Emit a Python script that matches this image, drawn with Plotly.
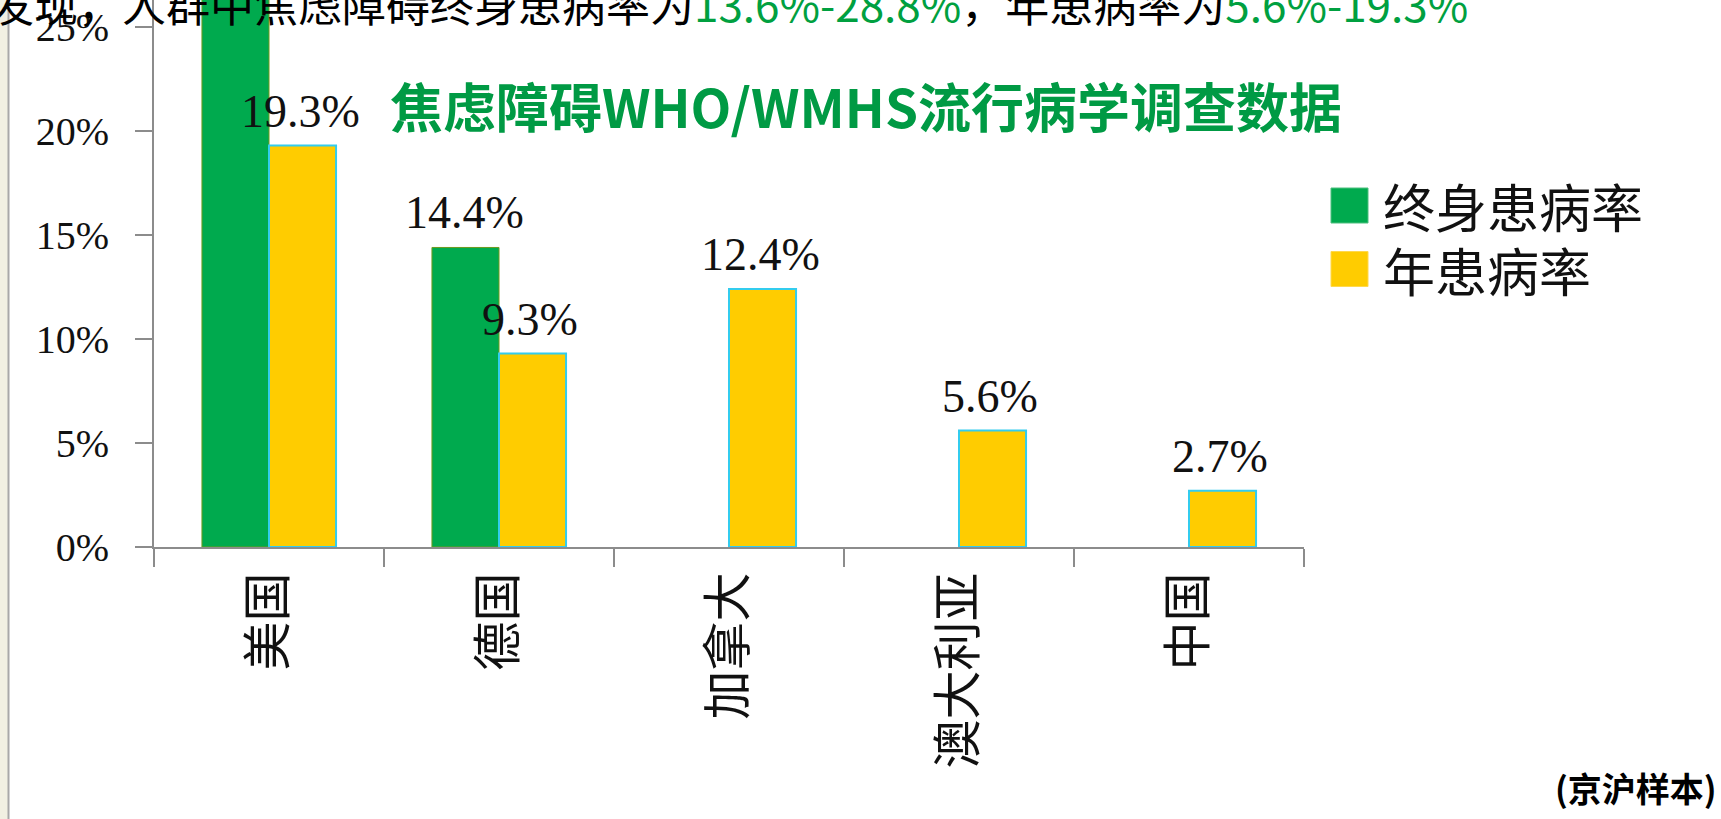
import plotly.graph_objects as go

# ---------------- data ----------------
countries = ["美国", "德国", "加拿大", "澳大利亚", "中国"]
series_names = ["终身患病率", "年患病率"]
lifetime = [28.8, 14.4, None, None, None]
annual = [19.3, 9.3, 12.4, 5.6, 2.7]
y_ticks = [0, 5, 10, 15, 20, 25]
y_tick_text = [f"{v}%" for v in y_ticks]

title_text = "焦虑障碍WHO/WMHS流行病学调查数据"
note_text = "(京沪样本)"
top_black_1 = "发现，人群中焦虑障碍终身患病率为"
top_green_1 = "13.6%-28.8%"
top_black_2 = "，年患病率为"
top_green_2 = "5.6%-19.3%"

# ---------------- style ----------------
W, H = 1721, 819
L, R, T, B = 154, 417, 0, 272
PW, PH = W - L - R, H - T - B
GREEN = "#00AA4E"
YELLOW = "#FFCC00"
TITLE_GREEN = "#009A44"
AXIS_GREY = "#8C8C8C"
SERIF = "Liberation Serif"
CJK = "Noto Sans CJK SC"


def px(x):
    return (x - L) / PW


def py(y):
    return (H - B - y) / PH


fig = go.Figure()
fig.add_trace(go.Bar(
    x=countries, y=lifetime, name=series_names[0],
    marker=dict(color=GREEN, line=dict(color="#6E9A1E", width=1)),
    showlegend=False,
))
fig.add_trace(go.Bar(
    x=countries, y=annual, name=series_names[1],
    marker=dict(color=YELLOW, line=dict(color="#33CCEE", width=2)),
    showlegend=False,
))

annotations = []
# value labels
for vals, shift in ((lifetime, -35), (annual, 31)):
    for c, v in zip(countries, vals):
        if v is None:
            continue
        annotations.append(dict(
            x=c, y=v, xref="x", yref="y", text=f"{v:.1f}%",
            showarrow=False, xanchor="center", yanchor="bottom",
            xshift=shift, yshift=7,
            font=dict(family=SERIF, size=46, color="#111111"),
        ))

# title
annotations.append(dict(
    x=px(866), y=py(105), xref="paper", yref="paper",
    text=f"<b>{title_text}</b>", showarrow=False,
    xanchor="center", yanchor="middle",
    font=dict(family=CJK, size=53, color=TITLE_GREEN),
))

# top partially visible sentence
annotations.append(dict(
    x=px(-12), y=1, xref="paper", yref="paper",
    text=(f"<span style='color:#000000'>{top_black_1}</span>"
          f"<span style='color:#00A040'>{top_green_1}</span>"
          f"<span style='color:#000000'>{top_black_2}</span>"
          f"<span style='color:#00A040'>{top_green_2}</span>"),
    showarrow=False, xanchor="left", yanchor="bottom", yshift=-37,
    font=dict(family=CJK, size=44, color="#000000"),
))

# note
annotations.append(dict(
    x=px(1719), y=py(788), xref="paper", yref="paper",
    text=f"<b>{note_text}</b>", showarrow=False,
    xanchor="right", yanchor="middle",
    font=dict(family=CJK, size=34, color="#000000"),
))

shapes = []
# manual legend
for i, (nm, col, lc) in enumerate(((series_names[0], GREEN, "#4FBF7F"),
                                   (series_names[1], YELLOW, "#FFD84D"))):
    y0 = 188 + i * 63.5
    shapes.append(dict(type="rect", xref="paper", yref="paper",
                       x0=px(1331), x1=px(1368), y0=py(y0), y1=py(y0 + 35),
                       fillcolor=col, line=dict(color=lc, width=1)))
    annotations.append(dict(
        x=px(1381), y=py(y0 + 17.5), xref="paper", yref="paper",
        text=nm, showarrow=False, xanchor="left", yanchor="middle",
        font=dict(family=CJK, size=52, color="#111111"),
    ))

# left slide edge
shapes.append(dict(type="rect", xref="paper", yref="paper", layer="below",
                   x0=px(0), x1=px(8), y0=py(H), y1=py(0),
                   fillcolor="#F1F0E2", line=dict(width=0)))
shapes.append(dict(type="line", xref="paper", yref="paper",
                   x0=px(8.5), x1=px(8.5), y0=py(H), y1=py(0),
                   line=dict(color="#A8A8A8", width=2)))

fig.update_layout(
    width=W, height=H,
    margin=dict(l=L, r=R, t=T, b=B, pad=0),
    paper_bgcolor="white", plot_bgcolor="white",
    barmode="group", bargap=0.417, bargroupgap=0,
    annotations=annotations, shapes=shapes,
    showlegend=False,
)
fig.update_xaxes(
    type="category", tickson="boundaries", ticks="outside", ticklen=18,
    tickwidth=2, tickcolor=AXIS_GREY, showline=True, linecolor=AXIS_GREY,
    linewidth=2, showgrid=False, tickangle=-90, ticklabelstandoff=4,
    tickfont=dict(family=CJK, size=49, color="#111111"),
)
fig.update_yaxes(
    range=[0, (H - B) / 20.8], tickvals=y_ticks, ticktext=y_tick_text,
    ticks="outside", ticklen=17, tickwidth=2, tickcolor=AXIS_GREY,
    showline=True, linecolor=AXIS_GREY, linewidth=2, showgrid=False,
    zeroline=False, ticklabelstandoff=18,
    tickfont=dict(family=SERIF, size=40, color="#111111"),
)

fig.write_html("out.html",
               config={"displayModeBar": False},
               post_script="document.body.style.margin='0px';"
                           "document.body.style.overflow='hidden';")
